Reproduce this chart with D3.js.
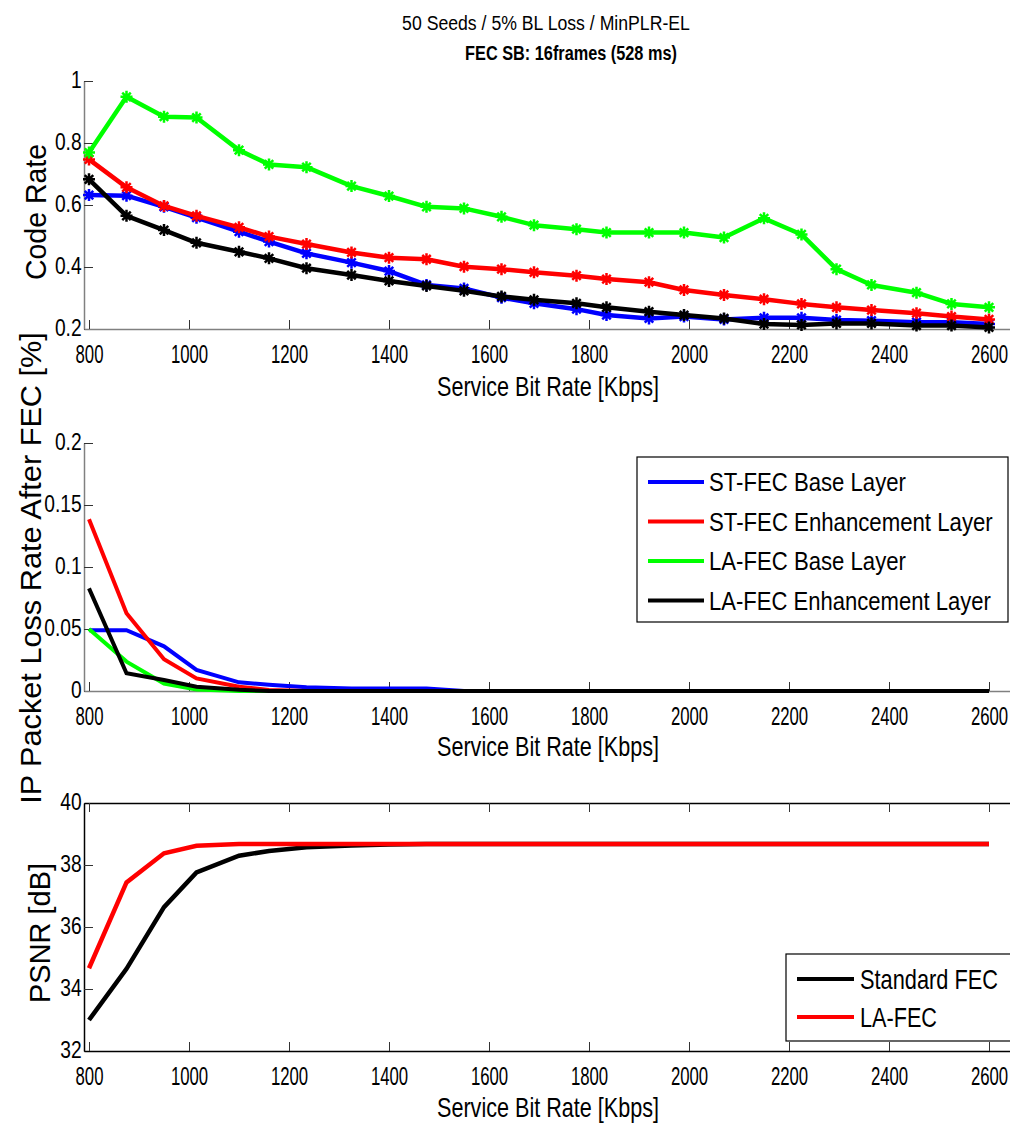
<!DOCTYPE html>
<html>
<head>
<meta charset="utf-8">
<script src="https://cdn.jsdelivr.net/npm/d3@7"></script>
<style>
  body { margin: 0; background: #fff; }
  text { font-family: 'Liberation Sans', Arial, sans-serif; }
</style>
</head>
<body>
<div id="wrapper"></div>
<script>
// service bit rates (Kbps), shared by all three panels
const rates = [800, 875, 950, 1015, 1100, 1160, 1235, 1325, 1400, 1475, 1550, 1625, 1690,
    1775, 1835, 1920, 1990, 2070, 2150, 2225, 2295, 2365, 2455, 2525, 2600]

// code rate
const stBaseRate = [0.632, 0.630, 0.594, 0.559, 0.514, 0.482, 0.444, 0.414, 0.387, 0.342, 0.331, 0.301, 0.283,
    0.264, 0.245, 0.234, 0.240, 0.231, 0.236, 0.236, 0.229, 0.227, 0.222, 0.222, 0.216]
const stEnhRate = [0.747, 0.657, 0.597, 0.565, 0.528, 0.498, 0.474, 0.447, 0.430, 0.425, 0.401, 0.393, 0.383,
    0.372, 0.361, 0.351, 0.326, 0.310, 0.296, 0.281, 0.270, 0.261, 0.251, 0.240, 0.231]
const laBaseRate = [0.769, 0.949, 0.885, 0.882, 0.777, 0.731, 0.722, 0.661, 0.629, 0.594, 0.589, 0.562, 0.535,
    0.522, 0.511, 0.511, 0.511, 0.495, 0.557, 0.505, 0.393, 0.342, 0.317, 0.281, 0.270]
const laEnhRate = [0.683, 0.565, 0.519, 0.478, 0.449, 0.428, 0.396, 0.374, 0.355, 0.339, 0.323, 0.305, 0.294,
    0.283, 0.270, 0.256, 0.245, 0.234, 0.216, 0.213, 0.218, 0.218, 0.211, 0.211, 0.205]

// IP packet loss after FEC [%]
const stBaseLoss = [0.049, 0.049, 0.036, 0.017, 0.007, 0.005, 0.003, 0.002, 0.002, 0.002, 0, 0, 0,
    0, 0, 0, 0, 0, 0, 0, 0, 0, 0, 0, 0]
const stEnhLoss = [0.1385, 0.0627, 0.0256, 0.0102, 0.0035, 0.0008, 0, 0, 0, 0, 0, 0, 0,
    0, 0, 0, 0, 0, 0, 0, 0, 0, 0, 0, 0]
const laBaseLoss = [0.050, 0.0237, 0.006, 0.0013, 0, 0, 0, 0, 0, 0, 0, 0, 0,
    0, 0, 0, 0, 0, 0, 0, 0, 0, 0, 0, 0]
const laEnhLoss = [0.0828, 0.0143, 0.0089, 0.0035, 0.001, 0, 0, 0, 0, 0, 0, 0, 0,
    0, 0, 0, 0, 0, 0, 0, 0, 0, 0, 0, 0]

// PSNR [dB]
const stdPsnr = [33.0, 34.65, 36.64, 37.76, 38.30, 38.45, 38.57, 38.63, 38.66, 38.68, 38.68, 38.68, 38.68,
    38.68, 38.68, 38.68, 38.68, 38.68, 38.68, 38.68, 38.68, 38.68, 38.68, 38.68, 38.68]
const laPsnr = [34.67, 37.44, 38.38, 38.62, 38.68, 38.68, 38.68, 38.68, 38.68, 38.68, 38.68, 38.68, 38.68,
    38.68, 38.68, 38.68, 38.68, 38.68, 38.68, 38.68, 38.68, 38.68, 38.68, 38.68, 38.68]

const xTicks = [800, 1000, 1200, 1400, 1600, 1800, 2000, 2200, 2400, 2600]
const rateTicks = [0.2, 0.4, 0.6, 0.8, 1]
const lossTicks = [0, 0.05, 0.1, 0.15, 0.2]
const psnrTicks = [32, 34, 36, 38, 40]

const lossNames = ['ST-FEC Base Layer', 'ST-FEC Enhancement Layer', 'LA-FEC Base Layer', 'LA-FEC Enhancement Layer']
const psnrNames = ['Standard FEC', 'LA-FEC']
const colors = ['#0000ff', '#ff0000', '#00ff00', '#000000']

const svg = d3.select('#wrapper')
    .append('svg')
        .attr('width', 1010)
        .attr('height', 1124)

const x = d3.scaleLinear().domain([790, 2646]).range([84, 1012])

// text squeezed horizontally to look like the narrow MATLAB font
function narrowText(parent, px, py, str, size, width, anchor, rot, weight) {
    const t = parent.append('text')
        .attr('text-anchor', anchor)
        .attr('dy', '0.36em')
        .attr('font-size', size)
        .attr('font-weight', weight || 'normal')
        .text(str)
    const natural = t.node().getComputedTextLength()
    const s = width / natural
    t.attr('transform', 'translate(' + px + ',' + py + ')' + (rot ? ' rotate(-90)' : '') + ' scale(' + s + ',1)')
    return t
}

// titles
narrowText(svg, 546, 22, '50 Seeds / 5% BL Loss / MinPLR-EL', 21, 288, 'middle')
narrowText(svg, 571, 52, 'FEC SB: 16frames (528 ms)', 21, 212, 'middle', false, 'bold')

function xAxis(g, y0, color) {
    const ax = g.append('g')
        .attr('transform', 'translate(0,' + y0 + ')')
        .call(d3.axisBottom(x).tickValues(xTicks).tickSizeInner(-9).tickSizeOuter(0).tickPadding(16)
            .tickFormat(d3.format('d')))
    ax.select('.domain').attr('stroke', color).attr('stroke-width', 1.5)
    ax.selectAll('.tick line').attr('stroke', '#333')
    ax.selectAll('.tick text')
        .attr('font-size', 25)
        .attr('fill', '#000')
        .attr('font-family', "'Liberation Sans', Arial, sans-serif")
        .attr('transform', 'scale(0.67,1)')
    return ax
}

function yAxis(g, y, ticks, color, fmt) {
    const ax = g.append('g')
        .attr('transform', 'translate(84,0)')
        .call(d3.axisLeft(y).tickValues(ticks).tickSizeInner(-9).tickSizeOuter(0).tickFormat(fmt))
    ax.select('.domain').attr('stroke', color).attr('stroke-width', 1.5)
    ax.selectAll('.tick line').attr('stroke', '#333')
    ax.selectAll('.tick text')
        .attr('font-size', 24)
        .attr('fill', '#000')
        .attr('font-family', "'Liberation Sans', Arial, sans-serif")
        .attr('x', -3)
        .attr('dy', '0.28em')
        .attr('transform', 'scale(0.8,1)')
    return ax
}

function xLabel(y0) {
    narrowText(svg, 548, y0, 'Service Bit Rate [Kbps]', 27, 222, 'middle')
}

function yLabel(cx, cy, txt, len) {
    narrowText(svg, cx, cy, txt, 29, len, 'middle', true)
}

function asterisk(s) {
    const d = s * 0.707
    return 'M0,' + (-s) + 'V' + s + 'M' + (-s) + ',0H' + s +
        'M' + (-d) + ',' + (-d) + 'L' + d + ',' + d + 'M' + (-d) + ',' + d + 'L' + d + ',' + (-d)
}

// ---------- panel 1: code rate ----------
const yRate = d3.scaleLinear().domain([0.2, 1]).range([329, 81])
const p1 = svg.append('g')
yAxis(p1, yRate, rateTicks, '#808080', d => d === 1 ? '1' : d3.format('.1f')(d))
xAxis(p1, 329, '#808080')

const rateSeries = [stBaseRate, stEnhRate, laBaseRate, laEnhRate]
const line1 = d3.line().x((d, i) => x(rates[i])).y(d => yRate(d))
rateSeries.forEach((s, k) => {
    p1.append('path')
        .attr('d', line1(s))
        .attr('fill', 'none')
        .attr('stroke', colors[k])
        .attr('stroke-width', 4.5)
        .attr('stroke-linejoin', 'round')
    p1.selectAll(null)
        .data(s)
        .join('path')
            .attr('transform', (d, i) => 'translate(' + x(rates[i]) + ',' + yRate(d) + ')')
            .attr('d', asterisk(6))
            .attr('stroke', colors[k])
            .attr('stroke-width', 2.5)
            .attr('fill', 'none')
})
xLabel(386)
yLabel(36, 212, 'Code Rate', 136)

// ---------- panel 2: packet loss ----------
const yLoss = d3.scaleLinear().domain([0, 0.2]).range([691, 443])
const p2 = svg.append('g')
yAxis(p2, yLoss, lossTicks, '#808080', d => d === 0 ? '0' : String(d))
xAxis(p2, 691, '#808080')

const lossSeries = [stBaseLoss, stEnhLoss, laBaseLoss, laEnhLoss]
const line2 = d3.line().x((d, i) => x(rates[i])).y(d => yLoss(d))
lossSeries.forEach((s, k) => {
    p2.append('path')
        .attr('d', line2(s))
        .attr('fill', 'none')
        .attr('stroke', colors[k])
        .attr('stroke-width', 4)
})
xLabel(746)
yLabel(31, 568, 'IP Packet Loss Rate After FEC [%]', 472)

const leg2 = svg.append('g')
leg2.append('rect')
    .attr('x', 637).attr('y', 457).attr('width', 371).attr('height', 165)
    .attr('fill', '#fff').attr('stroke', '#000').attr('stroke-width', 1.2)
const legLens = [197, 284, 197, 282]
lossNames.forEach((n, k) => {
    const yy = 482 + k * 39.5
    leg2.append('line')
        .attr('x1', 648).attr('x2', 704).attr('y1', yy).attr('y2', yy)
        .attr('stroke', colors[k]).attr('stroke-width', 4)
    narrowText(leg2, 709, yy, n, 25, legLens[k], 'start')
})

// ---------- panel 3: PSNR ----------
const yPsnr = d3.scaleLinear().domain([32, 40]).range([1051, 803])
const p3 = svg.append('g')
yAxis(p3, yPsnr, psnrTicks, '#000', d3.format('d'))
xAxis(p3, 1051, '#000')
const top3 = p3.append('g')
    .attr('transform', 'translate(0,803)')
    .call(d3.axisTop(x).tickValues(xTicks).tickSizeInner(-9).tickSizeOuter(0).tickFormat(''))
top3.select('.domain').attr('stroke', '#000').attr('stroke-width', 1.5)
top3.selectAll('.tick line').attr('stroke', '#333')

const psnrSeries = [stdPsnr, laPsnr]
const psnrColors = ['#000000', '#ff0000']
const line3 = d3.line().x((d, i) => x(rates[i])).y(d => yPsnr(d))
psnrSeries.forEach((s, k) => {
    p3.append('path')
        .attr('d', line3(s))
        .attr('fill', 'none')
        .attr('stroke', psnrColors[k])
        .attr('stroke-width', 4.5)
})
xLabel(1107)
yLabel(40, 933, 'PSNR [dB]', 140)

const leg3 = svg.append('g')
leg3.append('rect')
    .attr('x', 786).attr('y', 954).attr('width', 230).attr('height', 87)
    .attr('fill', '#fff').attr('stroke', '#000').attr('stroke-width', 1.2)
const leg3Lens = [138, 77]
psnrNames.forEach((n, k) => {
    const yy = 979 + k * 38
    leg3.append('line')
        .attr('x1', 797).attr('x2', 854).attr('y1', yy).attr('y2', yy)
        .attr('stroke', psnrColors[k]).attr('stroke-width', 4)
    narrowText(leg3, 860, yy, n, 27, leg3Lens[k], 'start')
})
</script>
</body>
</html>
